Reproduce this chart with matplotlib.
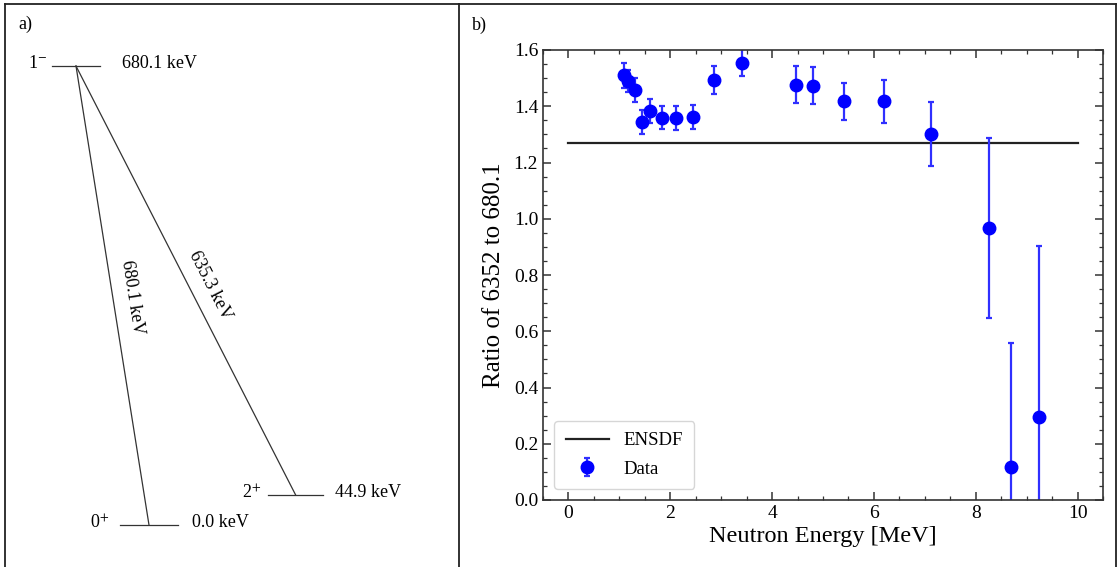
import matplotlib
matplotlib.use("Agg")
import matplotlib.pyplot as plt
from matplotlib.lines import Line2D

plt.rcParams['font.family'] = ['Liberation Serif', 'DejaVu Serif']
plt.rcParams['mathtext.fontset'] = 'stix'

# level scheme (panel a)
level_energy = [680.1, 44.9, 0.0]
level_spin = [r'1$^{-}$', r'2$^{+}$', r'0$^{+}$']
level_label = ['680.1 keV', '44.9 keV', '0.0 keV']
gamma_from = [0, 0]
gamma_to = [2, 1]
gamma_label = ['680.1 keV', '635.3 keV']

# ratio data (panel b)
energy = [1.10, 1.17, 1.30, 1.45, 1.61, 1.84, 2.12, 2.45, 2.86, 3.40,
          4.46, 4.81, 5.41, 6.19, 7.12, 8.27, 8.69, 9.24]
ratio = [1.51, 1.49, 1.457, 1.343, 1.382, 1.360, 1.358, 1.362, 1.492, 1.554,
         1.477, 1.473, 1.417, 1.417, 1.301, 0.967, 0.119, 0.294]
ratio_err = [0.045, 0.040, 0.043, 0.043, 0.043, 0.041, 0.042, 0.043, 0.050, 0.048,
             0.065, 0.065, 0.065, 0.078, 0.113, 0.320, 0.440, 0.610]
ensdf_ratio = 1.268
ensdf_range = [0, 10]

fig = plt.figure(figsize=(11.18, 5.67), dpi=100)

# ---- panel a: level scheme, x in pixel columns, y in keV
ax_a = fig.add_axes([5 / 1118, 0, 454 / 1118, 563 / 567])
px_per_kev = 459 / 680.1
ax_a.set_xlim(5, 459)
ax_a.set_ylim(-42 / px_per_kev, (525 - 4) / px_per_kev)
ax_a.set_xticks([])
ax_a.set_yticks([])
ax_a.spines['bottom'].set_visible(False)
for s in ['left', 'top', 'right']:
    ax_a.spines[s].set_linewidth(1.3)
    ax_a.spines[s].set_color('#222222')

# layout of level columns: (line start, line end, spin x, label x)
level_cols = [(52, 100, 28, 122), (268, 323, 242, 335), (120, 178, 90, 192)]
lc = '#333333'
for i, e in enumerate(level_energy):
    x0, x1, xs, xl = level_cols[i]
    ax_a.plot([x0, x1], [e, e], color=lc, lw=0.9)
    ax_a.text(xs, e + 3, level_spin[i], fontsize=13, ha='left', va='center')
    ax_a.text(xl, e + 3, level_label[i], fontsize=13, ha='left', va='center')

for f, t, lab in zip(gamma_from, gamma_to, gamma_label):
    xf = (level_cols[f][0] + level_cols[f][1]) / 2
    xt = (level_cols[t][0] + level_cols[t][1]) / 2
    ax_a.plot([xf, xt], [level_energy[f], level_energy[t]], color=lc, lw=0.9)

ax_a.text(132, (525 - 297) / px_per_kev, gamma_label[0], fontsize=13,
          rotation=-81, ha='center', va='center')
ax_a.text(210, (525 - 285) / px_per_kev, gamma_label[1], fontsize=13,
          rotation=-63, ha='center', va='center')
ax_a.text(0.03, 0.955, 'a)', transform=ax_a.transAxes, fontsize=13)

# outer borders of the right cell
fig.add_artist(Line2D([459 / 1118, 1116 / 1118], [563 / 567, 563 / 567],
                      transform=fig.transFigure, color='#222222', lw=1.3))
fig.add_artist(Line2D([1116 / 1118, 1116 / 1118], [0, 563 / 567],
                      transform=fig.transFigure, color='#222222', lw=1.3))
fig.text(472 / 1118, 1 - 30 / 567, 'b)', fontsize=13)

# ---- panel b: ratio vs neutron energy
ax = fig.add_axes([543 / 1118, 67 / 567, 560 / 1118, 450 / 567])
ax.plot(ensdf_range, [ensdf_ratio, ensdf_ratio], color='#222222', lw=1.6,
        label='ENSDF')
ax.errorbar(energy, ratio, yerr=ratio_err, fmt='o', color='blue', ms=9,
            ecolor='#3030ff', elinewidth=1.6, capsize=2.5, capthick=1.6,
            label='Data')
ax.set_xlim(-0.5, 10.5)
ax.set_ylim(0, 1.6)
ax.set_xticks([0, 2, 4, 6, 8, 10])
ax.set_xticks([i * 0.5 for i in range(-1, 22)], minor=True)
ax.set_yticks([0.0, 0.2, 0.4, 0.6, 0.8, 1.0, 1.2, 1.4, 1.6])
ax.set_yticks([i * 0.05 for i in range(33)], minor=True)
ax.yaxis.set_major_formatter(matplotlib.ticker.FormatStrFormatter('%.1f'))
ax.tick_params(which='both', direction='in', top=True, right=True,
               labelsize=14, color='#333333')
ax.tick_params(which='major', length=6, width=1.1)
ax.tick_params(which='minor', length=3, width=0.9)
for s in ax.spines.values():
    s.set_linewidth(1.2)
    s.set_color('#333333')
ax.set_xlabel('Neutron Energy [MeV]', fontsize=17.5, labelpad=3)
ax.set_ylabel('Ratio of 6352 to 680.1', fontsize=18, labelpad=6)
ax.legend(loc='lower left', fontsize=13.5, framealpha=0.8,
          borderaxespad=0.6, handlelength=2.3, labelspacing=0.6,
          borderpad=0.6)

fig.savefig('out.png', dpi=100)
